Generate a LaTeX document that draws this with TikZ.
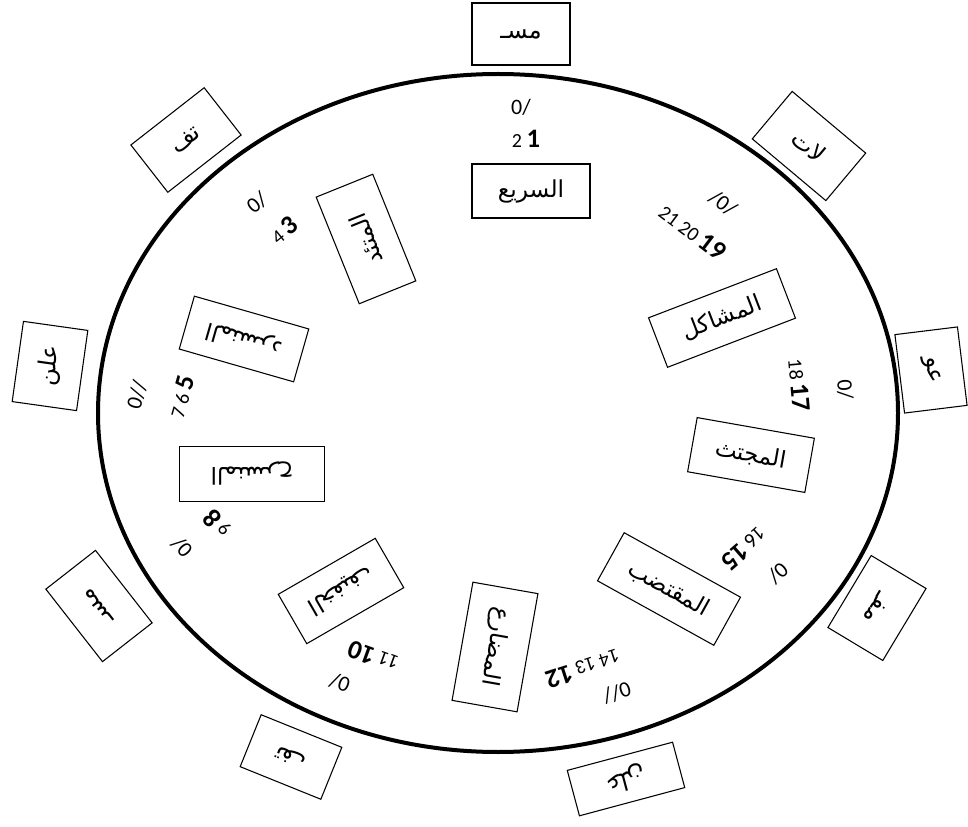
\documentclass[tikz,border=0pt]{standalone}
\usepackage{fontspec}
\usepackage{tikz}
\newfontfamily\arabicfont[Script=Arabic]{DejaVu Sans}
\newfontfamily\numfont{Carlito}
\TeXXeTstate=1
\newcommand{\arab}[1]{{\arabicfont\beginR #1\endR}}
\newcommand{\bnum}[1]{{\fontsize{20pt}{22}\selectfont\bfseries #1}}
\tikzset{font={\numfont\fontsize{12pt}{14}\selectfont}}

\begin{document}
\begin{tikzpicture}[
  x=0.75pt, y=-0.75pt,
  sz/.style 2 args={minimum width={#1*0.75pt}, minimum height={#2*0.75pt}},
  bahr/.style={rectangle, draw, line width=0.8pt, inner sep=0pt, font=\fontsize{17.5pt}{20}\selectfont},
  juz/.style={rectangle, draw, line width=0.8pt, inner sep=0pt, font=\fontsize{18pt}{20}\selectfont},
  ramz/.style={inner sep=0pt, font=\numfont\fontsize{16.5pt}{18}\selectfont},
  raqm/.style={inner sep=0pt, font=\numfont\fontsize{15pt}{17}\selectfont}
]
\useasboundingbox (0,0) rectangle (968,827);
\draw[line width=3pt] (498,413) ellipse [x radius=400, y radius=339];

% outer boxes
\node[juz, sz={98}{62}] (f1) at (521,34) {\arab{مسـ}};
\node[juz, sz={93}{60}, rotate=38] (f3) at (186,140) {\arab{تف}};
\node[juz, sz={81}{65}, rotate=82] (f5) at (50,366) {\arab{علن}};
\node[juz, sz={92}{63}, rotate=128] (f8) at (99,606) {\arab{مسـ}};
\node[juz, sz={87}{56}, rotate=158] (f10) at (291,757) {\arab{تف}};
\node[juz, sz={109}{47}, rotate=195] (f12) at (626,779) {\arab{علن}};
\node[juz, sz={84}{64}, rotate=-121] (f15) at (877,608) {\arab{مفـ}};
\node[juz, sz={79}{63}, rotate=-83] (f17) at (931,370) {\arab{عو}};
\node[juz, sz={96}{62}, rotate=-40] (f19) at (809,146) {\arab{لات}};

% inner boxes
\node[bahr, sz={118}{54}] (m1) at (531,191) {\arab{السريع}};
\node[bahr, sz={115}{61}, rotate=112] (m3) at (366,239) {\arab{المتئد}};
\node[bahr, sz={119}{55}, rotate=164] (m5) at (244,339) {\arab{المنسرد}};
\node[bahr, sz={145}{55}, rotate=180] (m8) at (252,474) {\arab{المنسرح}};
\node[bahr, sz={112}{57}, rotate=-150] (m10) at (341,591) {\arab{الخفيف}};
\node[bahr, sz={120}{66}, rotate=-100] (m12) at (495,647) {\arab{المضارع}};
\node[bahr, sz={133}{55}, rotate=-29] (m15) at (669,589) {\arab{المقتضب}};
\node[bahr, sz={119}{55}, rotate=-10] (m17) at (751,455) {\arab{المجتث}};
\node[bahr, sz={137}{53}, rotate=21] (m19) at (722,318) {\arab{المشاكل}};

% numbers
\node[raqm] (n1) at (526,139) {2 \bnum{1}};
\node[raqm, rotate=39] (n3) at (284,230) {4 \bnum{3}};
\node[raqm, rotate=74] (n5) at (181,397) {7 6 \bnum{5}};
\node[raqm, rotate=132] (n8) at (217,524) {9 \bnum{8}};
\node[raqm, rotate=160] (n10) at (373,657) {11 \bnum{10}};
\node[raqm, rotate=198] (n12) at (583,669) {14 13 \bnum{12}};
\node[raqm, rotate=221] (n15) at (744,549) {16 \bnum{15}};
\node[raqm, rotate=-85] (n17) at (799,385) {18 \bnum{17}};
\node[raqm, rotate=-37] (n19) at (693,232) {21 20 \bnum{19}};

% marks
\node[ramz] (r1) at (521,107) {0/};
\node[ramz, rotate=39] (r3) at (257,203) {0/};
\node[ramz, rotate=74] (r5) at (137,395) {0//};
\node[ramz, rotate=132] (r8) at (182,547) {0/};
\node[ramz, rotate=160] (r10) at (340,683) {0/};
\node[ramz, rotate=198] (r12) at (617,693) {0//};
\node[ramz, rotate=221] (r15) at (778,573) {0/};
\node[ramz, rotate=-85] (r17) at (845,390) {0/};
\node[ramz, rotate=-37] (r19) at (723,203) {/0/};
\end{tikzpicture}
\end{document}
